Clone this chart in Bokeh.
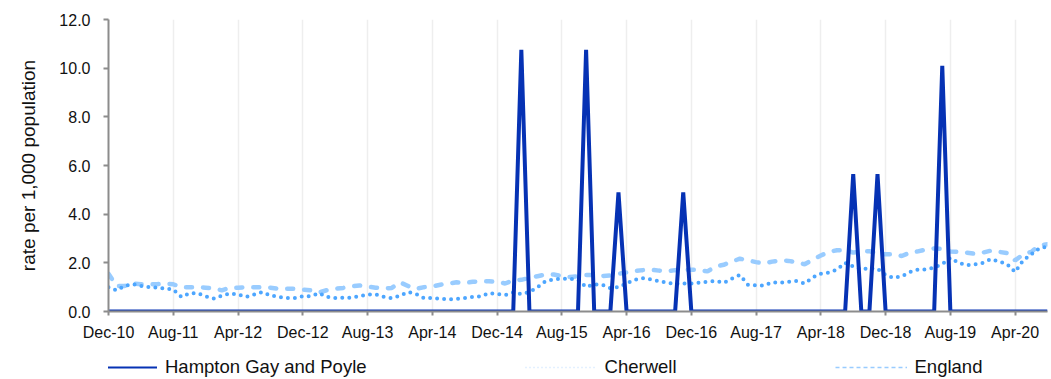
from bokeh.plotting import figure
from bokeh.layouts import column
from bokeh.models import FixedTicker, Legend, LegendItem, PrintfTickFormatter, Range1d
from bokeh.embed import file_html
from bokeh.resources import INLINE

# Monthly series, Dec-10 .. Aug-20 (117 months)
tick_labels = ["Dec-10", "Aug-11", "Apr-12", "Dec-12", "Aug-13", "Apr-14", "Dec-14",
               "Aug-15", "Apr-16", "Dec-16", "Aug-17", "Apr-18", "Dec-18", "Aug-19", "Apr-20"]

hampton = [0.0] * 117
hampton_spike_index = [51, 59, 63, 71, 92, 95, 103]
hampton_spike_value = [10.75, 10.75, 4.9, 4.9, 5.65, 5.65, 10.1]
for i, v in zip(hampton_spike_index, hampton_spike_value):
    hampton[i] = v

cherwell = [1.0, 0.87, 1.05, 1.12, 1.05, 1.0, 0.98, 0.95, 0.9, 0.6,
            0.75, 0.75, 0.62, 0.53, 0.65, 0.74, 0.7, 0.6, 0.7, 0.8,
            0.66, 0.6, 0.55, 0.55, 0.63, 0.63, 0.75, 0.6, 0.55, 0.57,
            0.57, 0.63, 0.7, 0.7, 0.6, 0.55, 0.65, 0.8, 0.72, 0.55,
            0.55, 0.52, 0.5, 0.52, 0.55, 0.6, 0.62, 0.75, 0.72, 0.68,
            0.78, 0.72, 0.8, 1.0, 1.25, 1.32, 1.35, 1.35, 1.3, 1.0,
            1.12, 1.1, 0.96, 1.0, 1.15, 1.3, 1.37, 1.32, 1.25, 1.18,
            1.14, 1.15, 1.15, 1.18, 1.22, 1.25, 1.18, 1.35, 1.5, 1.1,
            1.07, 1.07, 1.2, 1.18, 1.22, 1.25, 1.15, 1.4, 1.55, 1.6,
            1.72, 2.0, 1.85, 1.73, 1.78, 1.75, 1.5, 1.38, 1.45, 1.62,
            1.72, 1.73, 1.8, 1.95, 2.2, 2.0, 1.9, 1.93, 2.0, 2.15,
            2.05, 1.95, 1.62, 2.1, 2.35, 2.6, 2.67]

england = [1.55, 1.05, 1.05, 1.15, 1.12, 1.12, 1.12, 1.15, 1.12, 1.0,
           1.0, 1.0, 0.98, 0.95, 0.87, 0.98, 0.98, 1.0, 1.0, 1.0,
           0.98, 0.93, 0.93, 0.93, 0.9, 0.87, 0.78, 0.88, 0.93, 0.97,
           1.03, 1.07, 1.02, 0.98, 0.95, 0.97, 1.2, 1.05, 0.93, 1.0,
           1.03, 1.1, 1.15, 1.2, 1.17, 1.22, 1.24, 1.24, 1.22, 1.15,
           1.28, 1.3, 1.38, 1.45, 1.52, 1.52, 1.45, 1.42, 1.45, 1.5,
           1.5, 1.46, 1.48, 1.55, 1.6, 1.66, 1.7, 1.72, 1.68, 1.66,
           1.7, 1.72, 1.72, 1.7, 1.65, 1.85, 1.92, 2.05, 2.17, 2.1,
           2.03, 1.97, 2.05, 2.1, 2.08, 2.03, 1.94, 2.13, 2.3, 2.45,
           2.52, 2.52, 2.42, 2.45, 2.48, 2.38, 2.35, 2.35, 2.28, 2.42,
           2.47, 2.55, 2.59, 2.57, 2.47, 2.45, 2.42, 2.37, 2.42, 2.5,
           2.45, 2.4, 2.1, 2.35, 2.45, 2.72, 2.76]

x = list(range(len(england)))
tick_pos = [i * 8 for i in range(len(tick_labels))]

FONT = "Liberation Sans"
C_HAMPTON = "#0632b4"
C_CHERWELL = "#4da6ff"
C_ENGLAND = "#99ccff"

p = figure(width=1049, height=345, output_backend="svg", toolbar_location=None,
           x_range=Range1d(0, len(x) - 1), y_range=Range1d(0, 12),
           min_border_left=108, min_border_top=19, min_border_bottom=34, min_border_right=2)
p.outline_line_color = None

r_eng = p.line(x, england, line_color=C_ENGLAND, line_width=4.5, line_dash="6 11", line_cap="round")
r_che = p.line(x, cherwell, line_color=C_CHERWELL, line_width=4, line_dash="0 7", line_cap="round")
r_ham = p.line(x, hampton, line_color=C_HAMPTON, line_width=4)

p.xaxis.ticker = FixedTicker(ticks=tick_pos)
p.xaxis.major_label_overrides = {t: l for t, l in zip(tick_pos, tick_labels)}
p.yaxis.ticker = FixedTicker(ticks=[0, 2, 4, 6, 8, 10, 12])
p.yaxis.formatter = PrintfTickFormatter(format="%.1f")
p.yaxis.axis_label = "rate per 1,000 population"

for ax in (p.xaxis, p.yaxis):
    ax.axis_line_color = "#8c8c8c"
    ax.axis_line_width = 2
    ax.major_tick_line_color = "#8c8c8c"
    ax.major_tick_line_width = 2
    ax.major_tick_in = 0
    ax.major_tick_out = 5
    ax.minor_tick_line_color = None
    ax.major_label_text_font = FONT
    ax.major_label_text_font_size = "16px"
    ax.major_label_text_color = "#111111"
    ax.axis_label_text_font = FONT
    ax.axis_label_text_font_size = "19px"
    ax.axis_label_text_font_style = "normal"
    ax.axis_label_text_color = "#111111"
p.xaxis.major_tick_out = 4
p.xaxis.major_label_standoff = 8
p.yaxis.major_label_standoff = 13
p.yaxis.axis_label_standoff = 17

p.xgrid.grid_line_color = "#eeeeee"
p.xgrid.grid_line_width = 1.5
p.ygrid.grid_line_color = None

# Legend strip underneath the chart
lg = figure(width=1049, height=33, output_backend="svg", toolbar_location=None,
            x_axis_type=None, y_axis_type=None, x_range=Range1d(0, 1), y_range=Range1d(0, 1),
            min_border=0, min_border_left=108, min_border_right=2)
lg.outline_line_color = None
lg.grid.grid_line_color = None
l_ham = lg.line([-5, -4], [-5, -4], line_color=C_HAMPTON, line_width=2)
l_che = lg.line([-5, -4], [-5, -4], line_color="#c9e2ff", line_width=1.5, line_dash="1 3")
l_eng = lg.line([-5, -4], [-5, -4], line_color=C_ENGLAND, line_width=1.5, line_dash="4 3")

legend = Legend(items=[LegendItem(label="Hampton Gay and Poyle", renderers=[l_ham]),
                       LegendItem(label="Cherwell", renderers=[l_che]),
                       LegendItem(label="England", renderers=[l_eng])],
                orientation="horizontal", location=(-23, 0),
                padding=0, margin=0, spacing=158, label_standoff=8,
                glyph_width=72, glyph_height=20, label_height=20,
                label_text_font=FONT, label_text_font_size="18.5px",
                label_text_color="#111111",
                border_line_color=None, background_fill_alpha=0)
lg.add_layout(legend, "center")

layout = column(p, lg, spacing=0)
open("out.html", "w").write(file_html(layout, INLINE))
